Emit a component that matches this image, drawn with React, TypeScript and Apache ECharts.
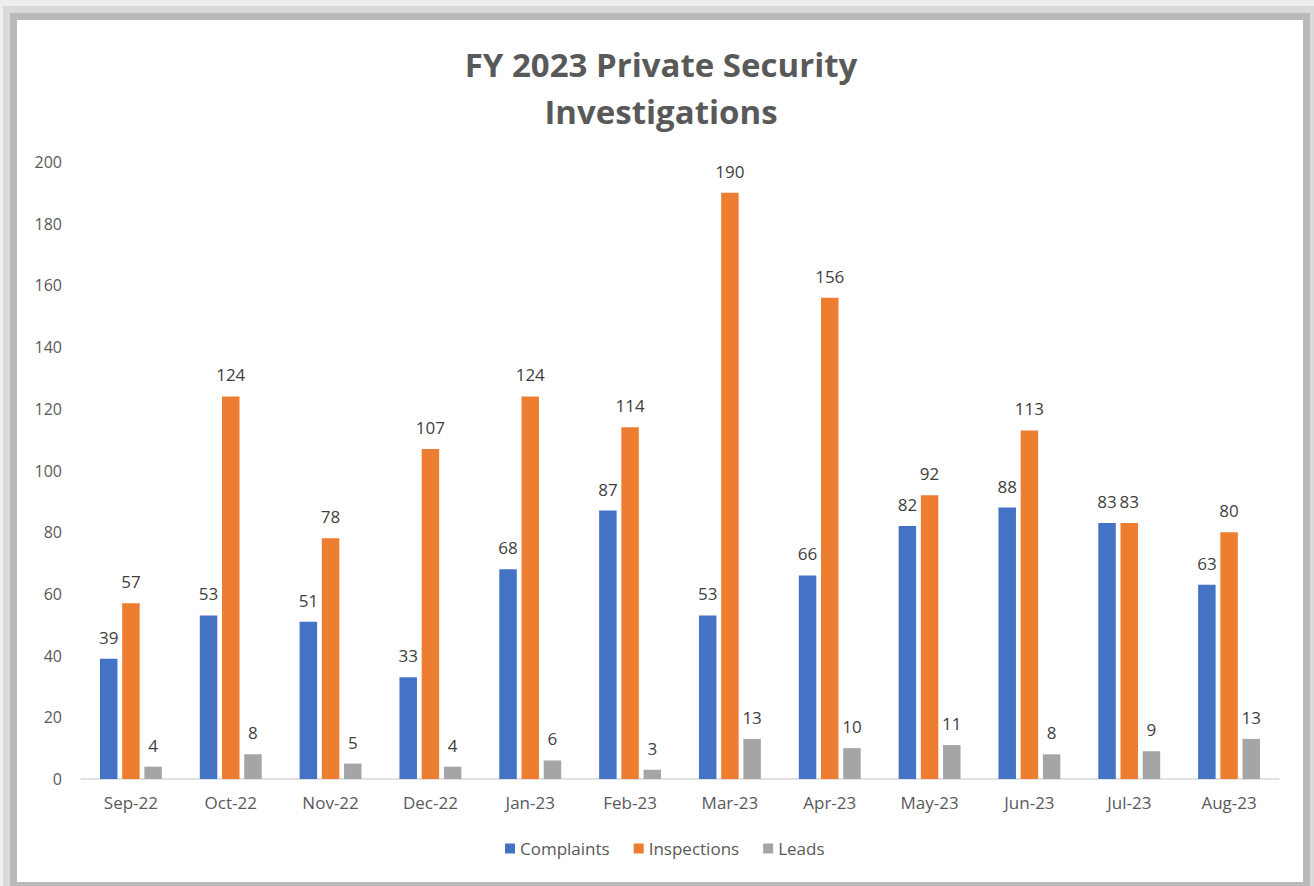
import React, { useEffect, useRef } from "react";
import * as echarts from "echarts";

const categories = ["Sep-22", "Oct-22", "Nov-22", "Dec-22", "Jan-23", "Feb-23", "Mar-23", "Apr-23", "May-23", "Jun-23", "Jul-23", "Aug-23"];
const complaints = [39, 53, 51, 33, 68, 87, 53, 66, 82, 88, 83, 63];
const inspections = [57, 124, 78, 107, 124, 114, 190, 156, 92, 113, 83, 80];
const leads = [4, 8, 5, 4, 6, 3, 13, 10, 11, 8, 9, 13];
const seriesNames = ["Complaints", "Inspections", "Leads"];
const colors = ["#4472C4", "#ED7D31", "#A5A5A5"];

const FONT = "'Open Sans', 'Noto Sans', sans-serif";

export default function App() {
  const ref = useRef<HTMLDivElement>(null);
  useEffect(() => {
    if (!ref.current) return;
    const chart = echarts.init(ref.current, undefined, { renderer: "svg" });
    const label = {
      show: true,
      position: "top" as const,
      distance: 13,
      color: "#404040",
      fontSize: 17,
      fontFamily: FONT,
    };
    const data = [complaints, inspections, leads];
    chart.setOption({
      animation: false,
      color: colors,
      textStyle: { fontFamily: FONT },
      title: {
        text: "FY 2023 Private Security\nInvestigations",
        left: 656,
        top: 36,
        textAlign: "center",
        textStyle: {
          fontFamily: FONT,
          fontSize: 33,
          fontWeight: "bold",
          color: "#595959",
          lineHeight: 47,
        },
      },
      legend: {
        bottom: 24,
        left: 500,
        itemWidth: 10,
        itemHeight: 10,
        itemGap: 24,
        icon: "rect",
        textStyle: { fontFamily: FONT, fontSize: 17, color: "#595959" },
        data: seriesNames,
      },
      grid: { left: 81, right: 35, top: 162, bottom: 107 },
      xAxis: {
        type: "category",
        data: categories,
        axisLine: { lineStyle: { color: "#D9D9D9", width: 1.5 } },
        axisTick: { show: false },
        axisLabel: { fontFamily: FONT, fontSize: 17, color: "#595959", margin: 15 },
      },
      yAxis: {
        type: "value",
        min: 0,
        max: 200,
        interval: 20,
        splitLine: { show: false },
        axisLine: { show: false },
        axisTick: { show: false },
        axisLabel: { fontFamily: FONT, fontSize: 16, color: "#595959", margin: 19 },
      },
      series: seriesNames.map((name, i) => ({
        name,
        type: "bar",
        data: data[i],
        barCategoryGap: "38%",
        barGap: "27%",
        label,
        itemStyle: { color: colors[i] },
      })),
    });
    return () => chart.dispose();
  }, []);

  return (
    <div style={{ position: "fixed", left: 0, top: 0, width: 1314, height: 886, background: "#EEEEEE", overflow: "hidden" }}>
      <div style={{ position: "absolute", left: 3, top: 6, width: 1311, height: 880, background: "#D9D9D9" }} />
      <div style={{ position: "absolute", left: 10, top: 13, width: 1300, height: 873, background: "#B9B9B9" }} />
      <div style={{ position: "absolute", left: 17, top: 20, width: 1286, height: 862, background: "#FFFFFF" }} />
      <div ref={ref} style={{ position: "absolute", left: 0, top: 0, width: 1314, height: 886 }} />
    </div>
  );
}
